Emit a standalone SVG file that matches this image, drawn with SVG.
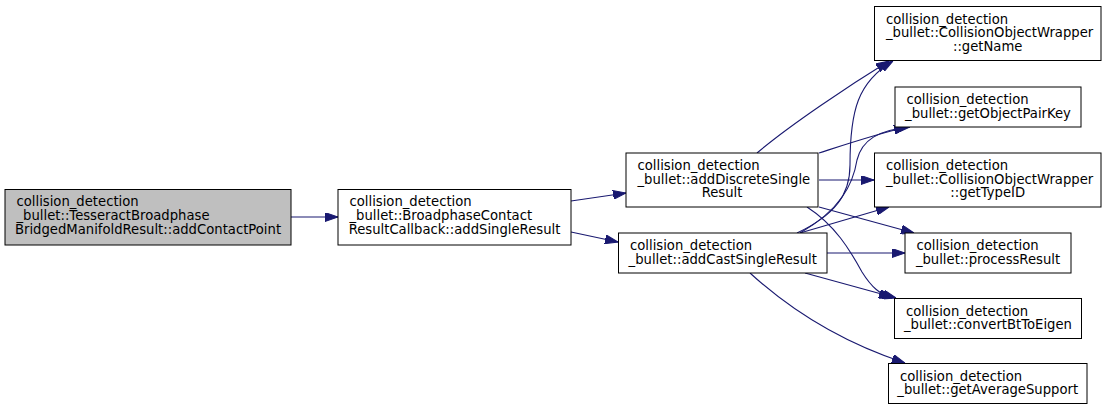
<svg xmlns="http://www.w3.org/2000/svg" width="1107" height="410" viewBox="0 0 1107 410">
<style>
.node rect{fill:#ffffff;stroke:#000000;stroke-width:1}
.node.root rect{fill:#bfbfbf}
.node text{font-family:"DejaVu Sans","Liberation Sans",sans-serif;font-size:13.2px;fill:#000000}
.m{text-anchor:middle}
.edges path{fill:none;stroke:#191970;stroke-width:1.1}
</style>
<defs>
<marker id="arr" viewBox="0 0 13 9" refX="13" refY="4.5" markerWidth="13" markerHeight="9" markerUnits="userSpaceOnUse" orient="auto">
<path d="M0,0 L13,4.5 L0,9 z" fill="#191970" stroke="#191970" stroke-width="1"/>
</marker>
</defs>
<rect width="1107" height="410" fill="#ffffff"/>
<g class="edges" marker-end="url(#arr)">
<path d="M291,217 L338,217" marker-end="url(#arr)"/>
<path d="M571,201 L626,193" marker-end="url(#arr)"/>
<path d="M571,232 L618,242" marker-end="url(#arr)"/>
<path d="M757,153 C790,125 850,85 889,61" marker-end="url(#arr)"/>
<path d="M797,233 C835,215 850,195 850,165 C850,110 858,82 893,61" marker-end="url(#arr)"/>
<path d="M819,153 C850,143 880,133 907,127" marker-end="url(#arr)"/>
<path d="M800,233 C840,210 853,185 857,160 C862,140 878,130 910,127" marker-end="url(#arr)"/>
<path d="M819,180 L874,180" marker-end="url(#arr)"/>
<path d="M800,233 L889,207" marker-end="url(#arr)"/>
<path d="M819,207 L914,233" marker-end="url(#arr)"/>
<path d="M807,207 C835,225 850,250 862,272 C872,288 880,294 892,298" marker-end="url(#arr)"/>
<path d="M805,273 L896,298" marker-end="url(#arr)"/>
<path d="M827,253 L905,253" marker-end="url(#arr)"/>
<path d="M750,273 C785,305 835,340 905,363" marker-end="url(#arr)"/>
</g>
<g id="node1" class="node root">
<rect x="5" y="189.5" width="286" height="55.5"/>
<text x="16.5" y="206.3">collision_detection</text>
<text x="16.5" y="220">_bullet::TesseractBroadphase</text>
<text x="148" y="233.7" class="m">BridgedManifoldResult::addContactPoint</text>
</g>
<g id="node2" class="node">
<rect x="338" y="189.5" width="233" height="55.5"/>
<text x="349.5" y="206.3">collision_detection</text>
<text x="349.5" y="220">_bullet::BroadphaseContact</text>
<text x="454.5" y="233.7" class="m">ResultCallback::addSingleResult</text>
</g>
<g id="node3" class="node">
<rect x="626" y="153" width="192" height="54"/>
<text x="637.5" y="170">collision_detection</text>
<text x="637.5" y="183.7">_bullet::addDiscreteSingle</text>
<text x="722" y="197.4" class="m">Result</text>
</g>
<g id="node4" class="node">
<rect x="618.5" y="233" width="208.5" height="40"/>
<text x="630" y="250">collision_detection</text>
<text x="722.7" y="263.7" class="m">_bullet::addCastSingleResult</text>
</g>
<g id="node5" class="node">
<rect x="874.5" y="6.5" width="226.5" height="54"/>
<text x="886" y="23.5">collision_detection</text>
<text x="886" y="37.2">_bullet::CollisionObjectWrapper</text>
<text x="987.7" y="50.9" class="m">::getName</text>
</g>
<g id="node6" class="node">
<rect x="895" y="87" width="186" height="40"/>
<text x="906.5" y="104">collision_detection</text>
<text x="988" y="117.7" class="m">_bullet::getObjectPairKey</text>
</g>
<g id="node7" class="node">
<rect x="874.5" y="153" width="226.5" height="54"/>
<text x="886" y="170">collision_detection</text>
<text x="886" y="183.7">_bullet::CollisionObjectWrapper</text>
<text x="987.7" y="197.4" class="m">::getTypeID</text>
</g>
<g id="node8" class="node">
<rect x="905" y="233" width="166" height="40"/>
<text x="916.5" y="250">collision_detection</text>
<text x="988" y="263.7" class="m">_bullet::processResult</text>
</g>
<g id="node9" class="node">
<rect x="894.5" y="298.5" width="187" height="40"/>
<text x="906" y="315.5">collision_detection</text>
<text x="988" y="329.2" class="m">_bullet::convertBtToEigen</text>
</g>
<g id="node10" class="node">
<rect x="888.5" y="363.5" width="198.5" height="40"/>
<text x="900" y="380.5">collision_detection</text>
<text x="987.7" y="394.2" class="m">_bullet::getAverageSupport</text>
</g>
</svg>
